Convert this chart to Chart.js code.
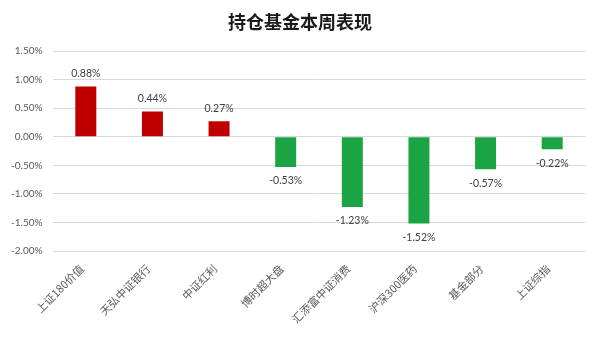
<!DOCTYPE html>
<html>
<head>
<meta charset="utf-8">
<script src="https://cdn.jsdelivr.net/npm/chart.js@4/dist/chart.umd.min.js"></script>
<style>
html,body{margin:0;padding:0;background:#fff;}
#wrap{width:600px;height:338px;position:relative;}
</style>
</head>
<body>
<div id="wrap"><canvas id="c" width="600" height="338"></canvas></div>
<script>
const titleText = '持仓基金本周表现';
const categories = ['上证180价值','天弘中证银行','中证红利','博时超大盘','汇添富中证消费','沪深300医药','基金部分','上证综指'];
const values = [0.88, 0.44, 0.27, -0.53, -1.23, -1.52, -0.57, -0.22];
const yMin = -2.0;
const yMax = 1.5;
const yStep = 0.5;

const RED = '#C00000';
const GREEN = '#1AA443';

const titlePlugin = {
  id: 'titleDraw',
  afterDraw(chart) {
    const ctx = chart.ctx;
    ctx.save();
    ctx.font = 'bold 18px "Noto Sans CJK SC"';
    ctx.fillStyle = '#1a1a1a';
    ctx.textAlign = 'center';
    ctx.textBaseline = 'middle';
    ctx.fillText(titleText, 300, 22);
    ctx.restore();
  }
};

const labelPlugin = {
  id: 'valueLabels',
  afterDatasetsDraw(chart) {
    const ctx = chart.ctx;
    const meta = chart.getDatasetMeta(0);
    ctx.save();
    ctx.font = '10.5px Lato';
    ctx.fillStyle = '#404040';
    ctx.textAlign = 'center';
    ctx.textBaseline = 'middle';
    meta.data.forEach((bar, i) => {
      const v = values[i];
      const y = v >= 0 ? bar.y - 13 : bar.y + 14;
      ctx.fillText(v.toFixed(2) + '%', bar.x, y);
    });
    ctx.restore();
  }
};

new Chart(document.getElementById('c'), {
  type: 'bar',
  data: {
    labels: categories,
    datasets: [{
      data: values,
      backgroundColor: values.map(v => v >= 0 ? RED : GREEN),
      borderWidth: 0,
      categoryPercentage: 1,
      barPercentage: 0.315
    }]
  },
  options: {
    responsive: false,
    animation: false,
    events: [],
    layout: { padding: { top: 51, right: 14.5, left: 0, bottom: 0 } },
    plugins: { legend: { display: false }, title: { display: false }, tooltip: { enabled: false } },
    scales: {
      x: {
        grid: { display: false },
        border: { display: false },
        ticks: {
          autoSkip: false,
          minRotation: 45,
          maxRotation: 45,
          padding: 3,
          labelOffset: -4,
          color: '#595959',
          font: { family: '"Noto Sans CJK SC"', size: 11 }
        },
        afterFit(scale) { scale.height = 87; }
      },
      y: {
        min: yMin,
        max: yMax,
        grid: { color: '#D9D9D9', drawTicks: false, lineWidth: 1 },
        border: { display: false },
        ticks: {
          stepSize: yStep,
          padding: 10,
          color: '#595959',
          font: { family: 'Lato', size: 10 },
          callback: v => v.toFixed(2) + '%'
        },
        afterFit(scale) { scale.width = 52.5; }
      }
    }
  },
  plugins: [titlePlugin, labelPlugin]
});
</script>
</body>
</html>
